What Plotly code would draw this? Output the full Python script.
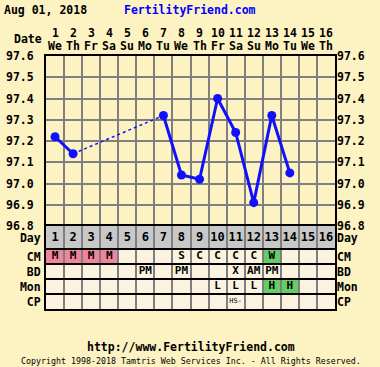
import plotly.graph_objects as go

# ---------------- data ----------------
DAYS = list(range(1, 17))
DAY_NAMES = ["We", "Th", "Fr", "Sa", "Su", "Mo", "Tu", "We",
             "Th", "Fr", "Sa", "Su", "Mo", "Tu", "We", "Th"]
TEMP_DAYS = list(range(1, 15))
TEMPS = [97.22, 97.14, None, None, None, None, 97.32, 97.04,
         97.02, 97.40, 97.24, 96.91, 97.32, 97.05]
TEMP_TICKS = [96.8, 96.9, 97.0, 97.1, 97.2, 97.3, 97.4, 97.5, 97.6]

ROW_LABELS = ["Day", "CM", "BD", "Mon", "CP"]
CM = ["M", "M", "M", "M", "", "", "", "S", "C", "C", "C", "C", "W", "", "", ""]
BD = ["", "", "", "", "", "PM", "", "PM", "", "", "X", "AM", "PM", "", "", ""]
MON = ["", "", "", "", "", "", "", "", "", "L", "L", "L", "H", "H", "", ""]
CP = ["", "", "", "", "", "", "", "", "", "", "HS-", "", "", "", "", ""]

# ---------------- styles ----------------
BG = "#fcf2c2"
CELL = "#fbf3df"
GRAYROW = "#c8c8c8"
PINK = "#f0849a"
GREEN = "#66cc66"
GRID = "#7f7f7f"
BLUE = "#1010ff"
FONT = "DejaVu Sans Mono"
ROW_H = [23, 15, 15, 15, 15]   # pixel-like units for table rows
TABLE_FRAC = 83 / 253

# row edges (top -> bottom)
edges = []
top = sum(ROW_H)
for h in ROW_H:
    edges.append((top, top - h))
    top -= h
centers = [(a + b) / 2 for a, b in edges]

fig = go.Figure()

# solid segments
fig.add_trace(go.Scatter(x=TEMP_DAYS, y=TEMPS, mode="lines+markers",
                         line=dict(color=BLUE, width=3),
                         marker=dict(color=BLUE, size=9),
                         connectgaps=False, hoverinfo="skip"))
# dashed connectors across gaps
valid = [(d, t) for d, t in zip(TEMP_DAYS, TEMPS) if t is not None]
for (d0, t0), (d1, t1) in zip(valid[:-1], valid[1:]):
    if d1 - d0 > 1:
        fig.add_trace(go.Scatter(x=[d0, d1], y=[t0, t1], mode="lines",
                                 line=dict(color=BLUE, width=1.5, dash="3px,3px"),
                                 hoverinfo="skip"))
# right-side axis carrier
fig.add_trace(go.Scatter(x=TEMP_DAYS, y=TEMPS, yaxis="y3", mode="markers",
                         marker=dict(opacity=0), hoverinfo="skip"))

# ---------------- table ----------------
shapes = []
fill_rows = [
    [GRAYROW] * 16,
    [PINK if v == "M" else (GREEN if v == "W" else CELL) for v in CM],
    [CELL] * 16,
    [GREEN if v == "H" else CELL for v in MON],
    [CELL] * 16,
]
for r, (y0, y1) in enumerate(edges):
    for i, d in enumerate(DAYS):
        shapes.append(dict(type="rect", xref="x2", yref="y2",
                           x0=d - 0.5, x1=d + 0.5, y0=y1, y1=y0,
                           fillcolor=fill_rows[r][i], line=dict(width=0),
                           layer="below"))
for (y0, y1) in edges[:-1]:
    shapes.append(dict(type="line", xref="paper", yref="y2", x0=0, x1=1,
                       y0=y1, y1=y1, line=dict(color="black", width=2)))

text_rows = [[str(d) for d in DAYS], CM, BD, MON]
for r, row in enumerate(text_rows):
    xs = [d for d, v in zip(DAYS, row) if v]
    ts = [v for v in row if v]
    fig.add_trace(go.Scatter(x=xs, y=[centers[r]] * len(xs), text=ts,
                             mode="text", xaxis="x2", yaxis="y2",
                             textfont=dict(family=FONT, size=12 if r == 0 else 11,
                                           color="black", weight="bold"),
                             hoverinfo="skip"))
xs = [d for d, v in zip(DAYS, CP) if v]
fig.add_trace(go.Scatter(x=xs, y=[centers[4]] * len(xs), text=[v for v in CP if v],
                         mode="text", xaxis="x2", yaxis="y2",
                         textfont=dict(family=FONT, size=7, color="black"),
                         hoverinfo="skip"))
fig.add_trace(go.Scatter(x=DAYS, y=[centers[0]] * 16, yaxis="y4", xaxis="x2",
                         mode="markers", marker=dict(opacity=0), hoverinfo="skip"))

# ---------------- header / footer ----------------
ann = []
bold = dict(family=FONT, size=11.5, color="black", weight="bold")
for d, n in zip(DAYS, DAY_NAMES):
    ann.append(dict(x=d, xref="x", y=1, yref="paper", yshift=23.5, text=str(d),
                    showarrow=False, font=bold, yanchor="middle"))
    ann.append(dict(x=d, xref="x", y=1, yref="paper", yshift=10.5, text=n,
                    showarrow=False, font=bold, yanchor="middle"))
ann.append(dict(x=0, xref="paper", xshift=-2, xanchor="right", y=1, yref="paper",
                yshift=17, yanchor="middle", text="Date", showarrow=False, font=bold))
ann.append(dict(x=0, xref="paper", xshift=-44, xanchor="left", y=1, yref="paper",
                yshift=46, yanchor="middle", text="Aug 01, 2018", showarrow=False,
                font=bold))
ann.append(dict(x=0, xref="paper", xshift=76, xanchor="left", y=1, yref="paper",
                yshift=46, yanchor="middle", text="FertilityFriend.com", showarrow=False,
                font=dict(family=FONT, size=11.5, color="#0000ff", weight="bold")))
ann.append(dict(x=0.5, xref="paper", xshift=0, y=0, yref="paper", yshift=-38,
                yanchor="middle", text="http://www.FertilityFriend.com",
                showarrow=False, font=bold))
ann.append(dict(x=0.5, xref="paper", xshift=0, y=0, yref="paper", yshift=-52,
                yanchor="middle",
                text="Copyright 1998-2018 Tamtris Web Services Inc. - All Rights Reserved.",
                showarrow=False, font=dict(family=FONT, size=8.3, color="black")))

xgrid = [d - 0.5 for d in DAYS] + [DAYS[-1] + 0.5]
axfont = dict(family=FONT, size=11.5, color="black", weight="bold")

fig.update_layout(
    template="none",
    width=380, height=367,
    margin=dict(l=46, r=45, t=56, b=58, pad=0),
    paper_bgcolor=BG, plot_bgcolor=BG,
    showlegend=False,
    shapes=shapes, annotations=ann,
    xaxis=dict(domain=[0, 1], anchor="y", range=[0.5, 16.5], tickvals=xgrid,
               showticklabels=False, showgrid=True, gridcolor=GRID, gridwidth=2,
               showline=True, mirror=True, linecolor="black", linewidth=2,
               zeroline=False, automargin=False, ticks=""),
    yaxis=dict(domain=[TABLE_FRAC, 1], anchor="x", range=[96.8, 97.6],
               tickvals=TEMP_TICKS, ticktext=[f"{v:.1f}" for v in TEMP_TICKS],
               tickfont=axfont, showgrid=True, gridcolor=GRID, gridwidth=2,
               showline=True, mirror=True, linecolor="black", linewidth=2,
               zeroline=False, ticklabelstandoff=8, automargin=False, ticks=""),
    yaxis3=dict(overlaying="y", side="right", anchor="x", range=[96.8, 97.6],
                tickvals=TEMP_TICKS, ticktext=[f"{v:.1f}" for v in TEMP_TICKS],
                tickfont=axfont, showgrid=False, zeroline=False, showline=False,
                ticklabelstandoff=1, automargin=False, ticks=""),
    xaxis2=dict(domain=[0, 1], anchor="y2", matches="x", range=[0.5, 16.5],
                tickvals=xgrid, showticklabels=False, showgrid=True,
                gridcolor=GRID, gridwidth=2, showline=True, mirror=True,
                linecolor="black", linewidth=2, zeroline=False, automargin=False,
                ticks=""),
    yaxis2=dict(domain=[0, TABLE_FRAC], anchor="x2", range=[0, sum(ROW_H)],
                tickvals=centers, ticktext=ROW_LABELS, tickfont=axfont,
                showgrid=False, zeroline=False, showline=True, mirror=True,
                linecolor="black", linewidth=2, ticklabelstandoff=1,
                automargin=False, ticks=""),
    yaxis4=dict(overlaying="y2", side="right", anchor="x2", range=[0, sum(ROW_H)],
                tickvals=centers, ticktext=ROW_LABELS, tickfont=axfont,
                showgrid=False, zeroline=False, showline=False, ticklabelstandoff=1,
                automargin=False, ticks=""),
)

fig.write_html("out.html", post_script="document.body.style.margin='0';",
               config={"displayModeBar": False})
